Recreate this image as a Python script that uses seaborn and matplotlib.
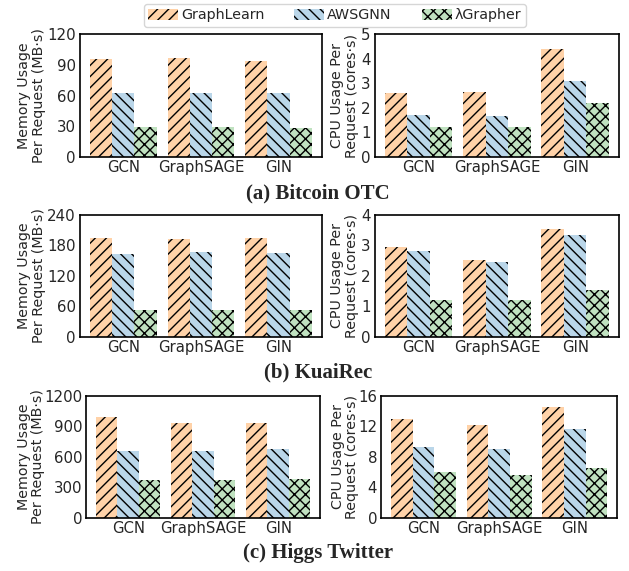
import pandas as pd
import numpy as np
import matplotlib
matplotlib.use("Agg")
import matplotlib.pyplot as plt
import seaborn as sns
from matplotlib.patches import Patch

# categories / systems
models = ["GCN", "GraphSAGE", "GIN"]
systems = ["GraphLearn", "AWSGNN", "λGrapher"]

# (a) Bitcoin OTC
btc_mem_graphlearn = [96, 97, 94]
btc_mem_awsgnn = [63, 63, 63]
btc_mem_lgrapher = [29, 29, 28]
btc_cpu_graphlearn = [2.6, 2.65, 4.4]
btc_cpu_awsgnn = [1.7, 1.68, 3.1]
btc_cpu_lgrapher = [1.22, 1.22, 2.18]

# (b) KuaiRec
kr_mem_graphlearn = [194, 192, 194]
kr_mem_awsgnn = [163, 166, 165]
kr_mem_lgrapher = [53, 53, 53]
kr_cpu_graphlearn = [2.95, 2.52, 3.54]
kr_cpu_awsgnn = [2.82, 2.44, 3.32]
kr_cpu_lgrapher = [1.21, 1.21, 1.52]

# (c) Higgs Twitter
hg_mem_graphlearn = [990, 928, 928]
hg_mem_awsgnn = [656, 656, 676]
hg_mem_lgrapher = [371, 371, 380]
hg_cpu_graphlearn = [12.9, 12.1, 14.5]
hg_cpu_awsgnn = [9.27, 8.97, 11.6]
hg_cpu_lgrapher = [6.03, 5.6, 6.5]

colors = ["#FFD2A8", "#BAD6E9", "#C0E2C0"]
hatches = ["///", "\\\\\\", "xxx"]


def make_df(a, b, c):
    rows = []
    for s, vals in zip(systems, [a, b, c]):
        for m, v in zip(models, vals):
            rows.append({"model": m, "system": s, "value": v})
    return pd.DataFrame(rows)


panels = [
    (make_df(btc_mem_graphlearn, btc_mem_awsgnn, btc_mem_lgrapher), "mem", 120, 30),
    (make_df(btc_cpu_graphlearn, btc_cpu_awsgnn, btc_cpu_lgrapher), "cpu", 5, 1),
    (make_df(kr_mem_graphlearn, kr_mem_awsgnn, kr_mem_lgrapher), "mem", 240, 60),
    (make_df(kr_cpu_graphlearn, kr_cpu_awsgnn, kr_cpu_lgrapher), "cpu", 4, 1),
    (make_df(hg_mem_graphlearn, hg_mem_awsgnn, hg_mem_lgrapher), "mem", 1200, 300),
    (make_df(hg_cpu_graphlearn, hg_cpu_awsgnn, hg_cpu_lgrapher), "cpu", 16, 4),
]

sns.set_style("white")
plt.rcParams["font.family"] = ["DejaVu Sans"]
plt.rcParams["hatch.linewidth"] = 1.0

fig = plt.figure(figsize=(6.29, 5.71), dpi=100)

# axes boxes [left, bottom, width, height] per panel, in figure fractions
boxes = [
    [0.127, 0.725, 0.385, 0.215], [0.596, 0.725, 0.388, 0.215],
    [0.127, 0.410, 0.385, 0.214], [0.596, 0.410, 0.388, 0.214],
    [0.137, 0.093, 0.372, 0.214], [0.606, 0.093, 0.375, 0.214],
]
label_x = [-0.14, -0.066, -0.14, -0.066, -0.175, -0.093]

for i, (df, kind, ymax, step) in enumerate(panels):
    ax = fig.add_axes(boxes[i])
    sns.barplot(data=df, x="model", y="value", hue="system", order=models,
                hue_order=systems, palette=colors, width=0.86, ax=ax,
                edgecolor="black", linewidth=0, legend=False)
    for k, cont in enumerate(ax.containers):
        for p in cont.patches:
            p.set_hatch(hatches[k])
            p.set_facecolor(colors[k])
            p.set_edgecolor("black")
            p.set_linewidth(0)
    ax.set_xlim(-0.56, 2.56)
    ax.set_ylim(0, ymax)
    ax.set_yticks(np.arange(0, ymax + step / 2, step))
    ax.set_xlabel("")
    if kind == "mem":
        ax.set_ylabel("Memory Usage\nPer Request (MB·s)", fontsize=10.3,
                      linespacing=1.05)
    else:
        ax.set_ylabel("CPU Usage Per\nRequest (cores·s)", fontsize=10.3,
                      linespacing=1.05)
    ax.yaxis.set_label_coords(label_x[i], 0.5)
    ax.tick_params(axis="y", labelsize=10.8, length=2, pad=1)
    ax.tick_params(axis="x", labelsize=10.7, length=0, pad=2)
    for sp in ax.spines.values():
        sp.set_visible(True)
        sp.set_color("black")
        sp.set_linewidth(1.2)

captions = ["(a) Bitcoin OTC", "(b) KuaiRec", "(c) Higgs Twitter"]
cap_y = [0.662, 0.347, 0.032]
for t, y in zip(captions, cap_y):
    fig.text(0.505, y, t, ha="center", va="center", fontsize=15,
             fontweight="bold", family=["Liberation Serif", "DejaVu Serif"])

handles = [Patch(facecolor=colors[k], edgecolor="black", linewidth=0,
                 hatch=hatches[k], label=systems[k]) for k in range(3)]
leg = fig.legend(handles=handles, loc="upper center", bbox_to_anchor=(0.532, 0.998),
                 ncol=3, fontsize=10.3, frameon=True, handlelength=2.1,
                 handleheight=0.8, handletextpad=0.2, columnspacing=2.1,
                 borderpad=0.3, borderaxespad=0.2, fancybox=True)
leg.get_frame().set_edgecolor("#cccccc")

fig.savefig("out.png", dpi=100)
